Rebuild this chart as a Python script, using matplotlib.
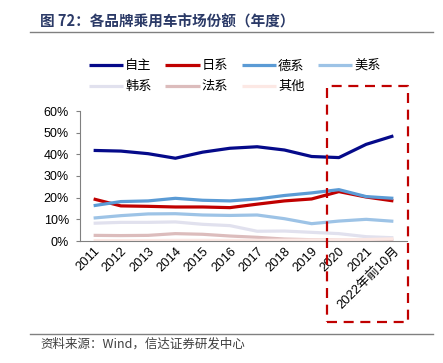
"""Brand market share of passenger cars, yearly line chart."""
import matplotlib
matplotlib.use("Agg")
import matplotlib.pyplot as plt
from matplotlib.patches import Rectangle
from matplotlib.lines import Line2D
from matplotlib.ticker import FuncFormatter

plt.rcParams['font.family'] = ['Liberation Sans', 'Noto Sans CJK SC', 'DejaVu Sans']

years = ['2011', '2012', '2013', '2014', '2015', '2016', '2017', '2018',
         '2019', '2020', '2021', '2022年前10月']

zizhu = [41.8, 41.5, 40.3, 38.2, 41.0, 42.8, 43.5, 42.0, 39.0, 38.5, 44.6, 48.5]
rixi = [19.4, 16.2, 16.0, 15.7, 15.7, 15.4, 17.0, 18.5, 19.4, 22.8, 20.3, 18.5]
dexi = [16.3, 18.2, 18.5, 19.7, 18.8, 18.5, 19.4, 21.0, 22.2, 23.7, 20.5, 19.7]
meixi = [10.6, 11.7, 12.5, 12.6, 12.0, 11.8, 12.0, 10.3, 8.0, 9.2, 10.0, 9.1]
hanxi = [8.2, 8.6, 8.6, 8.8, 7.7, 7.1, 4.5, 4.6, 4.0, 3.4, 2.0, 1.5]
faxi = [2.6, 2.5, 2.6, 3.4, 3.1, 2.3, 1.7, 0.9, 0.6, 0.4, 0.3, 0.3]
qita = [0.2, 0.2, 0.2, 0.3, 0.3, 0.3, 0.3, 0.4, 0.5, 0.5, 0.7, 1.0]

series = [
    ('自主', zizhu, '#050a8a'),
    ('日系', rixi, '#c00000'),
    ('德系', dexi, '#5b9bd5'),
    ('美系', meixi, '#9dc3e6'),
    ('韩系', hanxi, '#e1e1ee'),
    ('法系', faxi, '#dcbcbc'),
    ('其他', qita, '#fce8e4'),
]

fig = plt.figure(figsize=(4.43, 3.63), dpi=100)
ax = fig.add_axes([80 / 443, 1 - 241 / 363, 327 / 443, 130 / 363])

x = list(range(len(years)))
handles = {}
for name, vals, col in series:
    ln, = ax.plot(x, vals, color=col, lw=2.3, solid_joinstyle='round',
                  solid_capstyle='butt', label=name)
    handles[name] = ln

ax.set_xlim(-0.5, len(years) - 0.5)
ax.set_ylim(0, 60)
ax.set_yticks(range(0, 61, 10))
ax.yaxis.set_major_formatter(FuncFormatter(lambda v, p: f'{v:.0f}%'))
ax.set_xticks(x)
ax.set_xticklabels(years, rotation=45, ha='right', va='top',
                   rotation_mode='anchor')
ax.tick_params(axis='y', length=3, width=0.8, color='#808080',
               labelsize=9, pad=5)
ax.tick_params(axis='x', length=0, labelsize=9.3, pad=3)
for s in ('top', 'right'):
    ax.spines[s].set_visible(False)
for s in ('left', 'bottom'):
    ax.spines[s].set_color('#808080')
    ax.spines[s].set_linewidth(0.8)

# legend, row-major order for 2 rows x 4 columns
order = ['自主', '韩系', '日系', '法系', '德系', '其他', '美系']
fig.legend([handles[n] for n in order], order, ncol=4, loc='upper left',
           bbox_to_anchor=(89 / 443, 1 - 60 / 363), frameon=False,
           fontsize=9.5, handlelength=2.6, handletextpad=0.15,
           columnspacing=1.03, labelspacing=0.65, borderaxespad=0,
           borderpad=0)

# red dashed highlight box
box = Rectangle((327 / 443, 1 - 322 / 363), 81 / 443, 236 / 363,
                transform=fig.transFigure, fill=False, edgecolor='#c00000',
                lw=1.6, linestyle=(0, (4.5, 3)), joinstyle='round')
fig.patches.append(box)

# title, rules, source
fig.text(40 / 443, 1 - 22 / 363, '图 72：各品牌乘用车市场份额（年度）',
         fontsize=10.5, fontweight='bold', color='#2b3a67',
         family=['Noto Sans CJK SC', 'DejaVu Sans'], va='center', ha='left')
fig.add_artist(Line2D([30 / 443, 433 / 443], [1 - 32 / 363, 1 - 32 / 363],
                      transform=fig.transFigure, color='#808080', lw=1))
fig.add_artist(Line2D([30 / 443, 433 / 443], [1 - 334 / 363, 1 - 334 / 363],
                      transform=fig.transFigure, color='#808080', lw=1))
fig.text(40 / 443, 1 - 344 / 363, '资料来源：Wind，信达证券研发中心',
         fontsize=9, style='italic', color='#404040',
         family=['Noto Sans CJK SC', 'DejaVu Sans'], va='center', ha='left')

fig.savefig('out.png', dpi=100, facecolor='white')
